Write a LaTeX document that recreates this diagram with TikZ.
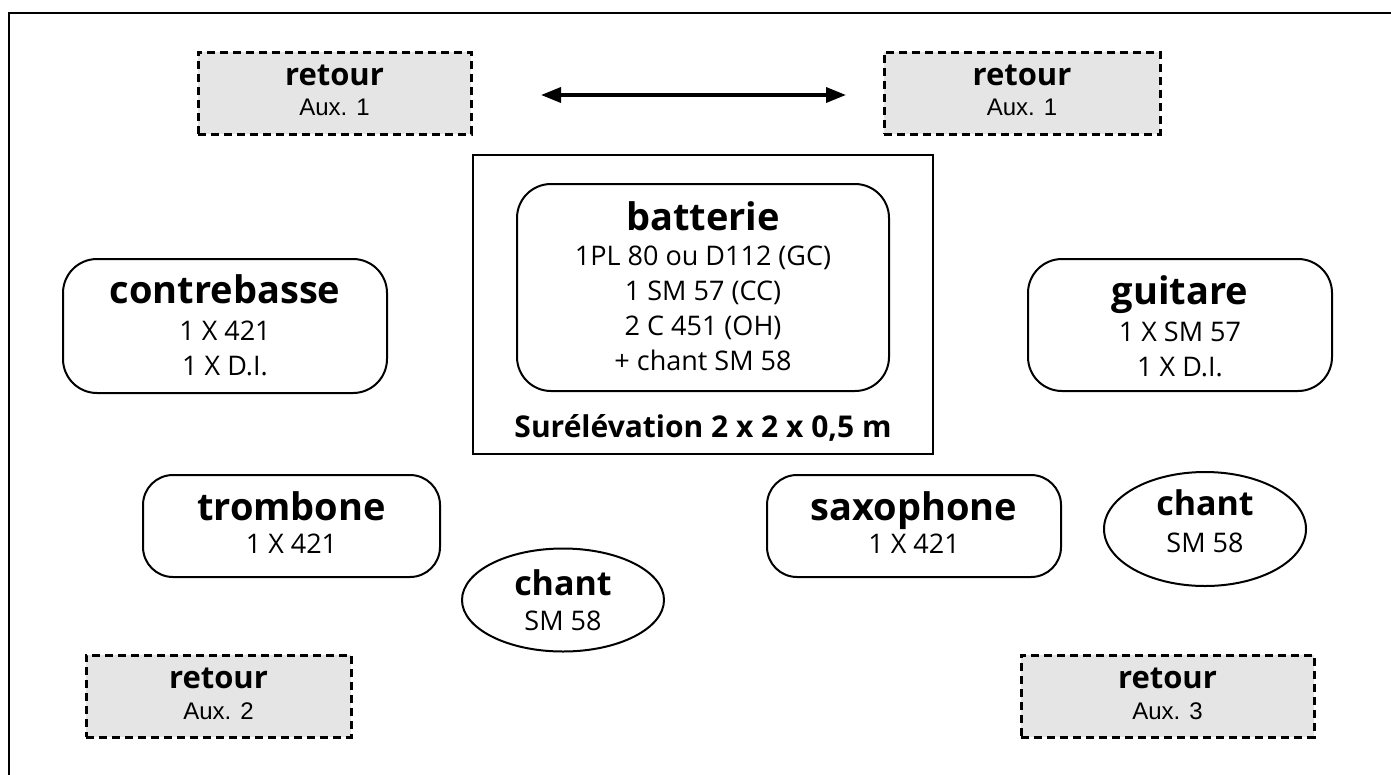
\documentclass[tikz,border=0pt]{standalone}
\usepackage{fontspec}
\setmainfont{Open Sans}
\newfontfamily\auxfont{Liberation Sans}
\usetikzlibrary{shapes.geometric,arrows.meta}
\tikzset{
  x=1pt, y=-1pt,
  rbox/.style={draw, line width=2pt, rounded corners=34pt, inner sep=0pt},
  retourbox/.style={draw, line width=3pt, dash pattern=on 8pt off 5pt, fill=black!10, inner sep=0pt, minimum width=#1, minimum height=82pt},
  stagebox/.style={draw, line width=2pt, inner sep=0pt},
  oval/.style={draw, ellipse, line width=2pt, inner sep=0pt},
  ttl/.style={anchor=base, inner sep=0pt, font=\fontsize{38}{40}\selectfont\bfseries},
  rtl/.style={anchor=base, inner sep=0pt, font=\fontsize{31}{34}\selectfont\bfseries},
  body/.style={anchor=base, inner sep=0pt, font=\fontsize{27}{30}\selectfont},
  auxt/.style={anchor=base, inner sep=0pt, font=\auxfont\fontsize{24}{26}\selectfont},
  arr/.style={line width=3.5pt, {Triangle[length=20pt,width=15pt]}-{Triangle[length=20pt,width=15pt]}}
}
\begin{document}
\begin{tikzpicture}
\useasboundingbox (0,0) rectangle (1391,774);
\clip (0,0) rectangle (1391,774);
\node[draw, line width=2pt, inner sep=0pt, minimum width=1400pt, minimum height=790pt, anchor=north west] (frame) at (8,12) {};

% retour boxes
\node[retourbox=273pt] (r1) at (334.5,93) {};
\node[rtl] at (334.5,85) {retour};
\node[auxt] at (334.5,115) {Aux. 1};
\node[retourbox=276pt] (r2) at (1022,93) {};
\node[rtl] at (1022,85) {retour};
\node[auxt] at (1022,115) {Aux. 1};
\node[retourbox=265pt] (r3) at (218.5,696) {};
\node[rtl] at (218.5,688) {retour};
\node[auxt] at (218.5,719) {Aux. 2};
\node[retourbox=293pt] (r4) at (1167.5,696) {};
\node[rtl] at (1167.5,688) {retour};
\node[auxt] at (1167.5,719) {Aux. 3};

\coordinate (al) at (541,95);
\coordinate (ar) at (846,95);
\draw[arr] (al) -- (ar);

% stage
\node[stagebox, minimum width=460pt, minimum height=299pt] (stage) at (703,304.5) {};
\node[rbox, minimum width=372pt, minimum height=207pt] (batt) at (703,287.5) {};
\node[ttl] at (703,230) {batterie};
\node[body] at (703,265) {1PL 80 ou D112 (GC)};
\node[body] at (703,300) {1 SM 57 (CC)};
\node[body] at (703,335) {2 C 451 (OH)};
\node[body] at (703,370) {+ chant SM 58};
\node[anchor=base, inner sep=0pt, font=\fontsize{30}{34}\selectfont\bfseries] at (703,437) {Surélévation 2 x 2 x 0,5 m};

% contrebasse
\node[rbox, minimum width=324pt, minimum height=134pt] (cb) at (225,326) {};
\node[ttl] at (225,303) {contrebasse};
\node[body] at (225,340) {1 X 421};
\node[body] at (225,375) {1 X D.I.};

% guitare
\node[rbox, minimum width=304pt, minimum height=132pt] (gt) at (1180,325) {};
\node[ttl] at (1180,304) {guitare};
\node[body] at (1180,341) {1 X SM 57};
\node[body] at (1180,376) {1 X D.I.};

% trombone
\node[rbox, rounded corners=30pt, minimum width=297pt, minimum height=102pt] (tb) at (291.5,526) {};
\node[ttl] at (291.5,520) {trombone};
\node[body] at (291.5,553) {1 X 421};

% saxophone
\node[rbox, rounded corners=30pt, minimum width=294pt, minimum height=102pt] (sx) at (914,526) {};
\node[ttl] at (914,520) {saxophone};
\node[body] at (914,553) {1 X 421};

% chant
\node[oval, minimum width=202pt, minimum height=103pt] (c1) at (563,600) {};
\node[ttl, font=\fontsize{34}{36}\selectfont\bfseries] at (563,595) {chant};
\node[body] at (563,630) {SM 58};
\node[oval, minimum width=202pt, minimum height=114pt] (c2) at (1205,529) {};
\node[ttl, font=\fontsize{34}{36}\selectfont\bfseries] at (1205,515) {chant};
\node[body] at (1205,552) {SM 58};
\end{tikzpicture}
\end{document}
